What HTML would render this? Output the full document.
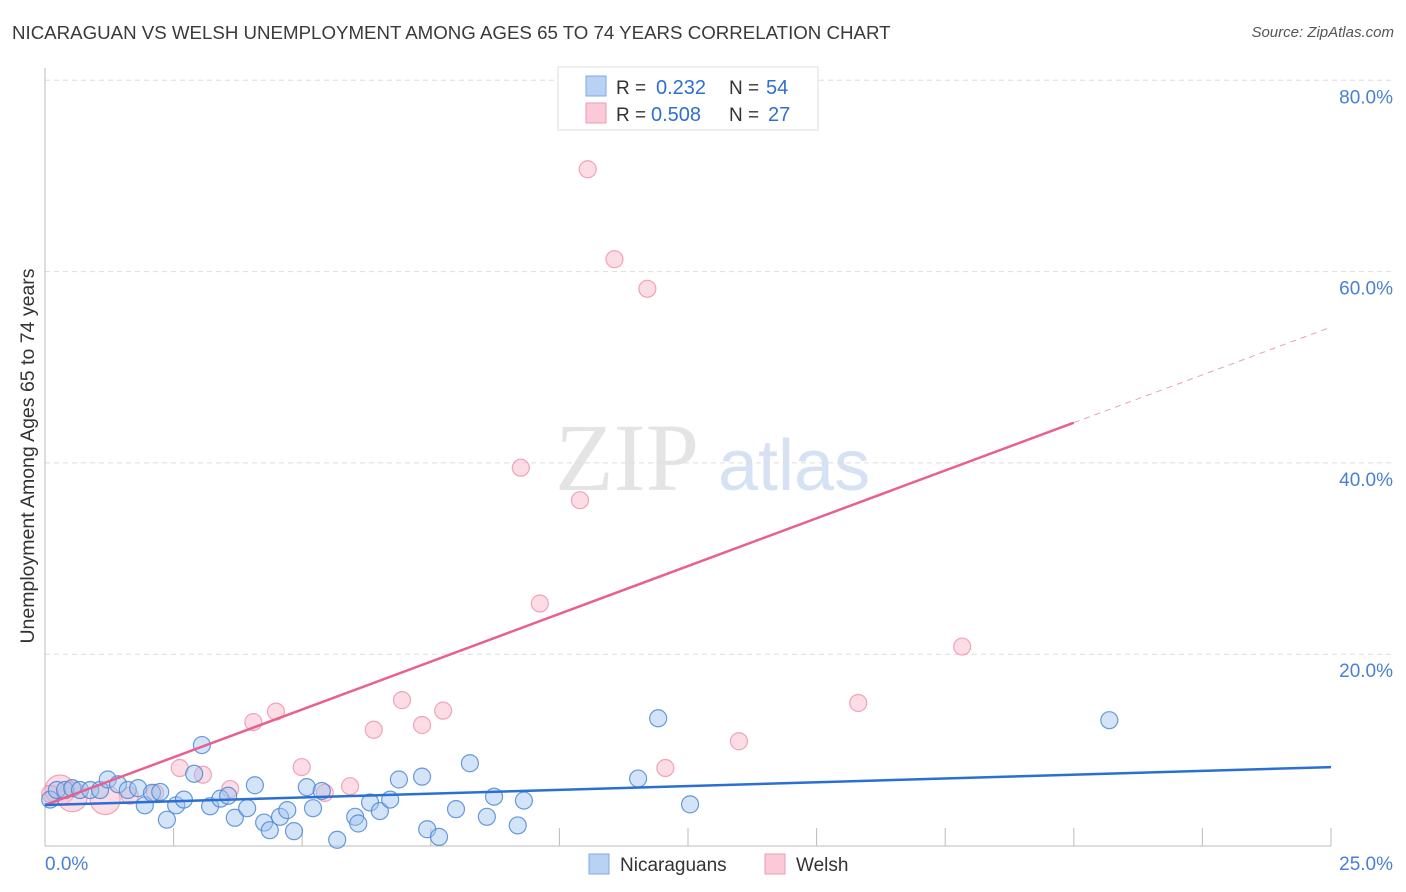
<!DOCTYPE html>
<html><head><meta charset="utf-8"><style>
body{margin:0;background:#fff;font-family:"Liberation Sans",sans-serif;}
#wrap{position:relative;width:1406px;height:892px;overflow:hidden;}
.t{position:absolute;white-space:nowrap;}
</style></head><body>
<div id="wrap">
<div class="t" style="left:12px;top:22px;font-size:18.7px;color:#3a3a3a;">NICARAGUAN VS WELSH UNEMPLOYMENT AMONG AGES 65 TO 74 YEARS CORRELATION CHART</div>
<div class="t" style="right:12px;top:24px;font-size:15px;color:#555;font-style:italic;">Source: ZipAtlas.com</div>
<svg id="svg" width="1406" height="892" style="position:absolute;left:0;top:0"></svg>
</div>
<script>
const xTicks=[0,5,10,15,20,25];
const yTicks=[20,40,60,80];
const blueX=[0.1,0.23,0.39,0.53,0.68,0.88,1.07,1.22,1.42,1.61,1.81,1.94,2.08,2.24,2.37,2.55,2.7,3.05,2.9,3.21,3.41,3.56,3.69,3.93,4.08,4.26,4.37,4.57,4.71,4.84,5.09,5.21,5.38,5.68,6.03,6.09,6.32,6.51,6.71,6.88,7.33,7.43,7.66,7.99,8.26,8.59,8.73,9.19,9.31,11.53,11.92,12.54,20.69];
const blueY=[4.8,5.8,5.8,6.0,5.8,5.8,5.8,6.9,6.4,5.8,6.0,4.2,5.5,5.6,2.7,4.2,4.8,10.5,7.5,4.1,4.9,5.2,2.9,3.9,6.3,2.4,1.6,3.0,3.7,1.5,6.1,3.9,5.7,0.6,3.0,2.3,4.5,3.6,4.8,6.9,7.2,1.7,0.9,3.8,8.6,3.0,5.1,2.1,4.7,7.0,13.3,4.3,13.1];
const pinkX=[0.29,0.53,1.17,1.65,2.14,2.62,3.07,3.6,4.05,4.49,4.99,5.44,5.93,6.39,6.94,7.33,7.74,9.25,10.4,9.62,10.55,11.07,11.71,12.06,13.49,15.81,17.83,0.1];
const pinkY=[5.8,5.1,4.8,5.2,5.5,8.1,7.4,5.9,12.9,14.0,8.2,5.5,6.2,12.1,15.2,12.6,14.1,39.5,36.1,25.3,70.7,61.3,58.2,8.1,10.9,14.9,20.8,5.4];
const blueTrend=[4.23,8.2];
const pinkTrend=[4.23,54.2];
const X0=45,X1=1331,Y0=845.5,PY=191.3/20;
const sx=v=>X0+(v/25)*(X1-X0), sy=v=>Y0-v*PY;
const svg=document.getElementById('svg'),NS='http://www.w3.org/2000/svg';
function mk(t,a,p){const e=document.createElementNS(NS,t);for(const k in a)e.setAttribute(k,a[k]);(p||svg).appendChild(e);return e;}
let w=mk('text',{x:555,y:490,'font-size':96,fill:'#e4e4e4','font-family':'Liberation Serif,serif'});w.textContent='ZIP';

w=mk('text',{x:718,y:490,'font-size':72,fill:'#d6e2f3','font-family':'Liberation Sans,sans-serif'});w.textContent='atlas';

yTicks.forEach(v=>{const l=mk('line',{x1:X0,x2:1392,y1:sy(v),y2:sy(v),stroke:'#ddd','stroke-dasharray':'5,4'});

const t=mk('text',{x:1393,y:sy(v)+23,'text-anchor':'end','font-size':19,fill:'#4a7fd4'});t.textContent=v.toFixed(1)+'%';
});
let a=mk('line',{x1:X0,x2:X0,y1:68,y2:846,stroke:'#bbb'});
a=mk('line',{x1:X0,x2:X1,y1:846,y2:846,stroke:'#bbb'});
for(let i=1;i<=10;i++){const x=X0+i*(X1-X0)/10;const l=mk('line',{x1:x,x2:x,y1:828,y2:846,stroke:'#bbb'});
}
[[0,'start',45],[25,'end',1393]].forEach(([v,an,x])=>{const t=mk('text',{x:x,y:870,'text-anchor':an,'font-size':19,fill:'#4a7fd4'});t.textContent=v.toFixed(1)+'%';
});
let yt=mk('text',{x:0,y:0,'font-size':19.5,fill:'#333','text-anchor':'middle',transform:'translate(34,456) rotate(-90)'});yt.textContent='Unemployment Among Ages 65 to 74 years';

pinkX.forEach((v,i)=>{const c=mk('circle',{cx:sx(v),cy:sy(pinkY[i]),r:i<3?15:8.5,fill:'rgba(248,180,200,0.45)',stroke:'rgba(236,130,160,0.7)','stroke-width':1.2});
});
blueX.forEach((v,i)=>{const c=mk('circle',{cx:sx(v),cy:sy(blueY[i]),r:8.5,fill:'rgba(160,196,240,0.45)',stroke:'rgba(70,130,210,0.8)','stroke-width':1.2});
});
const pAt=x=>pinkTrend[0]+(pinkTrend[1]-pinkTrend[0])*x/25;
let tl=mk('line',{x1:sx(0),y1:sy(pinkTrend[0]),x2:sx(20),y2:sy(pAt(20)),stroke:'#e8608e','stroke-width':2.5});

tl=mk('line',{x1:sx(20),y1:sy(pAt(20)),x2:sx(25),y2:sy(pinkTrend[1]),stroke:'#e8a0b8','stroke-width':1,'stroke-dasharray':'6,5'});

tl=mk('line',{x1:sx(0),y1:sy(blueTrend[0]),x2:sx(25),y2:sy(blueTrend[1]),stroke:'#2a6fd4','stroke-width':2.5});

const g=mk('g',{});
mk('rect',{x:558,y:67,width:260,height:63,fill:'#fff',stroke:'#ddd'},g);
mk('rect',{x:586,y:76,width:20,height:20,fill:'#b8d2f5',stroke:'#7fa9e6'},g);
mk('rect',{x:586,y:103,width:20,height:20,fill:'#fbcad8',stroke:'#ee9ab5'},g);
[['0.232','54',94],['0.508','27',121]].forEach(([r,n,y])=>{
 let t=mk('text',{x:616,y:y,'font-size':19,fill:'#333'},g);t.textContent='R = ';
 t=mk('text',{x:r==='0.232'?656:651,y:y,'font-size':20,fill:'#2f6fd0'},g);t.textContent=r;
 t=mk('text',{x:729,y:y,'font-size':19,fill:'#333'},g);t.textContent='N = ';
 t=mk('text',{x:n==='54'?766:768,y:y,'font-size':20,fill:'#2f6fd0'},g);t.textContent=n;
});
const bl=mk('g',{});
mk('rect',{x:589,y:854,width:20,height:20,fill:'#b8d2f5',stroke:'#7fa9e6'},bl);
let lt=mk('text',{x:620,y:871,'font-size':19,fill:'#333'},bl);lt.textContent='Nicaraguans';
mk('rect',{x:765,y:854,width:20,height:20,fill:'#fbcad8',stroke:'#ee9ab5'},bl);
lt=mk('text',{x:796,y:871,'font-size':19,fill:'#333'},bl);lt.textContent='Welsh';
</script>
</body></html>
